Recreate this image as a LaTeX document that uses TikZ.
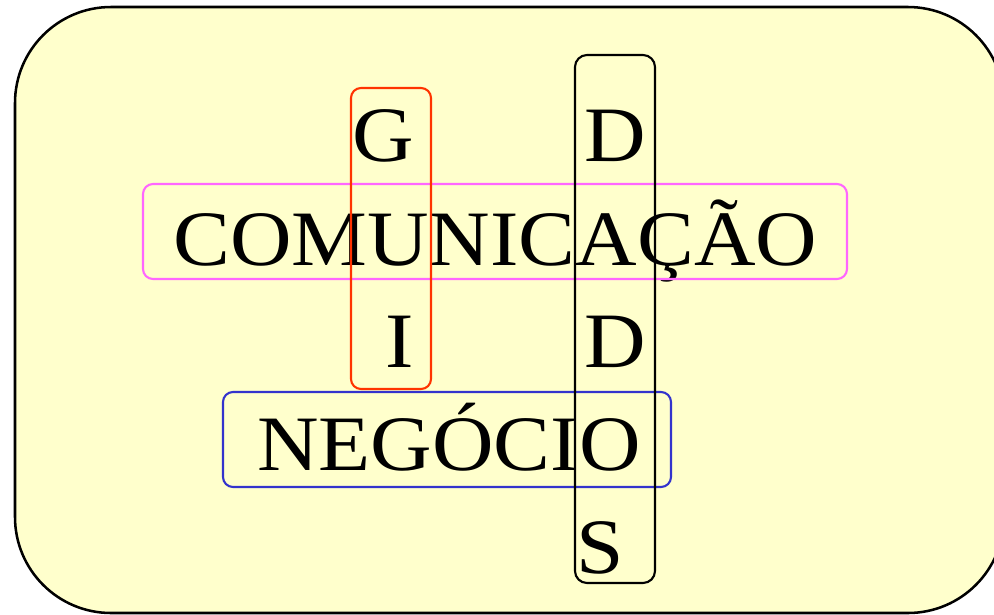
\documentclass[tikz,border=0pt]{standalone}
\usepackage{fontspec}
\setmainfont{Liberation Serif}
\usepackage{graphicx}
\usepackage{xcolor}
\usepackage{tikz}
\usetikzlibrary{positioning}
\definecolor{bgyellow}{HTML}{FFFFCC}
\definecolor{boxpink}{HTML}{FF66FF}
\definecolor{boxred}{HTML}{FF3300}
\definecolor{boxblue}{HTML}{3333CC}
\newcommand{\crossletters}[1]{\scalebox{1.01}[0.93]{#1}}

\begin{document}
\begin{tikzpicture}[
  x=0.025cm, y=-0.025cm,
  letter/.style={inner sep=0pt, font=\fontsize{60}{60}\selectfont},
  frame/.style={rounded corners=0.25cm, line width=1.5pt}
]
% Row baselines
\def\yA{161}
\def\yB{265}
\def\yC{367}
\def\yD{470}
\def\yE{573}

\useasboundingbox (0,0) rectangle (994,614);
\clip (0,0) rectangle (994,614);

% Background
\draw[fill=bgyellow, line width=1.8pt, rounded corners=2.4cm] (15,7) rectangle (1004,613);

% Horizontal words
\node[letter, anchor=base west] (comunicacao) at (173,\yB) {\crossletters{COMUNICAÇÃO}};
\node[letter, anchor=base west] (negocio)     at (257,\yD) {\crossletters{NEGÓCIO}};

% Vertical letters
\node[letter, anchor=base] (g)  at (383,\yA) {\crossletters{G}};
\node[letter, anchor=base] (i)  at (400,\yC) {\crossletters{I}};
\node[letter, anchor=base] (d1) at (615,\yA) {\crossletters{D}};
\node[letter, anchor=base] (d2) at (615,\yC) {\crossletters{D}};
\node[letter, anchor=base] (s)  at (600,\yE) {\crossletters{S}};

% Frames
\draw[frame, draw=boxpink] (143,184) rectangle (847,279);
\draw[frame, draw=boxblue] (223,392) rectangle (671,487);
\draw[frame, draw=boxred]  (351,88)  rectangle (431,389);
\draw[frame, draw=black, rounded corners=0.3cm] (575,55) rectangle (655,583);
\end{tikzpicture}
\end{document}
